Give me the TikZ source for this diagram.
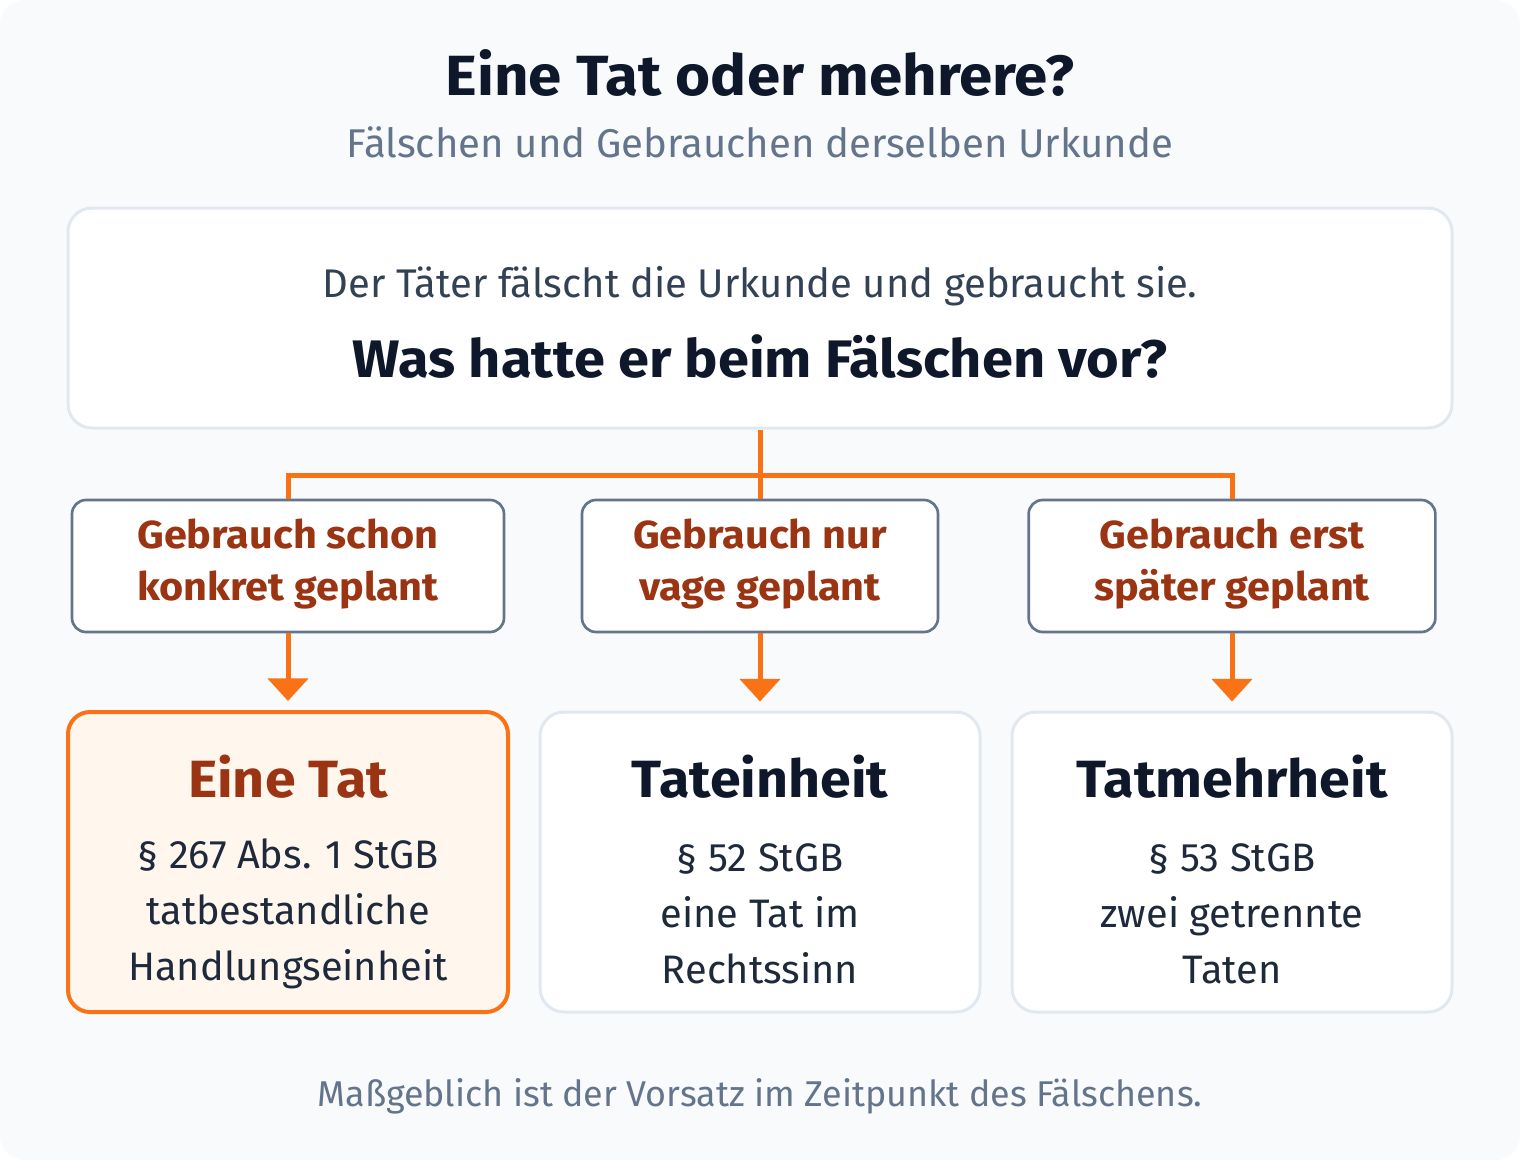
\documentclass[tikz,border=0pt]{standalone}
\usepackage{fontspec}
\setmainfont{Fira Sans}[BoldFeatures={FakeStretch=1.06}]
\usetikzlibrary{arrows.meta}
\definecolor{bgc}{HTML}{F8FAFC}
\definecolor{lightb}{HTML}{E2E8F0}
\definecolor{slateb}{HTML}{64748B}
\definecolor{orng}{HTML}{F97316}
\definecolor{rust}{HTML}{9A3412}
\definecolor{peach}{HTML}{FFF7ED}
\definecolor{ink}{HTML}{0F172A}
\definecolor{body}{HTML}{334155}
\definecolor{bodyd}{HTML}{1E293B}
\tikzset{
  card/.style={draw=lightb, line width=2.25pt, fill=white, rounded corners=18pt, inner sep=0pt},
  choice/.style={draw=slateb, line width=2pt, fill=white, rounded corners=10.5pt, inner sep=0pt, minimum height=99pt},
  res/.style={card, minimum width=330pt, minimum height=225pt},
  hot/.style={draw=orng, line width=3pt, fill=peach, rounded corners=16.5pt, inner sep=0pt, minimum width=330pt, minimum height=225pt},
  conn/.style={draw=orng, line width=3.75pt, line join=miter},
  arr/.style={conn, -{Triangle[width=30pt,length=17pt]}, shorten >=6.75pt},
  choicetxt/.style={text=rust, font=\fontsize{29.3}{39}\selectfont\bfseries, align=center},
  restitle/.style={font=\fontsize{39.3}{45}\selectfont\bfseries},
  restxt/.style={text=bodyd, font=\fontsize{29.8}{42}\selectfont, align=center},
}
\begin{document}
\begin{tikzpicture}[x=0.75pt, y=-0.75pt]
\useasboundingbox (0,0) rectangle (1520,1160);
\fill[bgc, rounded corners=18pt] (0,0) rectangle (1520,1160);

\node[text=ink, font=\fontsize{42.5}{48}\selectfont\bfseries] (title) at (760,73) {Eine Tat oder mehrere?};
\node[text=slateb, font=\fontsize{30.1}{34}\selectfont] (sub) at (760,142) {Fälschen und Gebrauchen derselben Urkunde};

\node[card, minimum width=1038pt, minimum height=165pt] (top) at (760,318) {};
\node[text=body, font=\fontsize{30}{34}\selectfont] (q1) at (760,286) {Der Täter fälscht die Urkunde und gebraucht sie.};
\node[text=ink, font=\fontsize{39.6}{44}\selectfont\bfseries] (q2) at (760,357) {Was hatte er beim Fälschen vor?};

\node[choice, minimum width=324pt] (m1) at (288,566) {};
\node[choice, minimum width=267pt] (m2) at (760,566) {};
\node[choice, minimum width=305pt] (m3) at (1232,566) {};
\node[choicetxt] (m1t) at (288,564) {Gebrauch schon\\konkret geplant};
\node[choicetxt] (m2t) at (760,564) {Gebrauch nur\\vage geplant};
\node[choicetxt] (m3t) at (1232,564) {Gebrauch erst\\später geplant};

\coordinate (j) at (760,475);
\draw[conn] (top.south) -- (j);
\draw[conn] (m1.north) |- (j) -| (m3.north);
\draw[conn] (j) -- (m2.north);

\node[hot] (b1) at (288,862) {};
\node[res] (b2) at (760,862) {};
\node[res] (b3) at (1232,862) {};

\draw[arr] (m1.south) -- (b1.north);
\draw[arr] (m2.south) -- (b2.north);
\draw[arr] (m3.south) -- (b3.north);

\node[restitle, text=rust] (b1h) at (288,777) {Eine Tat};
\node[restitle, text=ink] (b2h) at (760,777) {Tateinheit};
\node[restitle, text=ink] (b3h) at (1232,777) {Tatmehrheit};
\node[restxt] (b1t) at (288,914) {§ 267 Abs. 1 StGB\\tatbestandliche\\Handlungseinheit};
\node[restxt] (b2t) at (760,914) {§ 52 StGB\\eine Tat im\\Rechtssinn};
\node[restxt] (b3t) at (1232,914) {§ 53 StGB\\zwei getrennte\\Taten};

\node[text=slateb, font=\fontsize{26.9}{30}\selectfont] (foot) at (760,1096) {Maßgeblich ist der Vorsatz im Zeitpunkt des Fälschens.};
\end{tikzpicture}
\end{document}
